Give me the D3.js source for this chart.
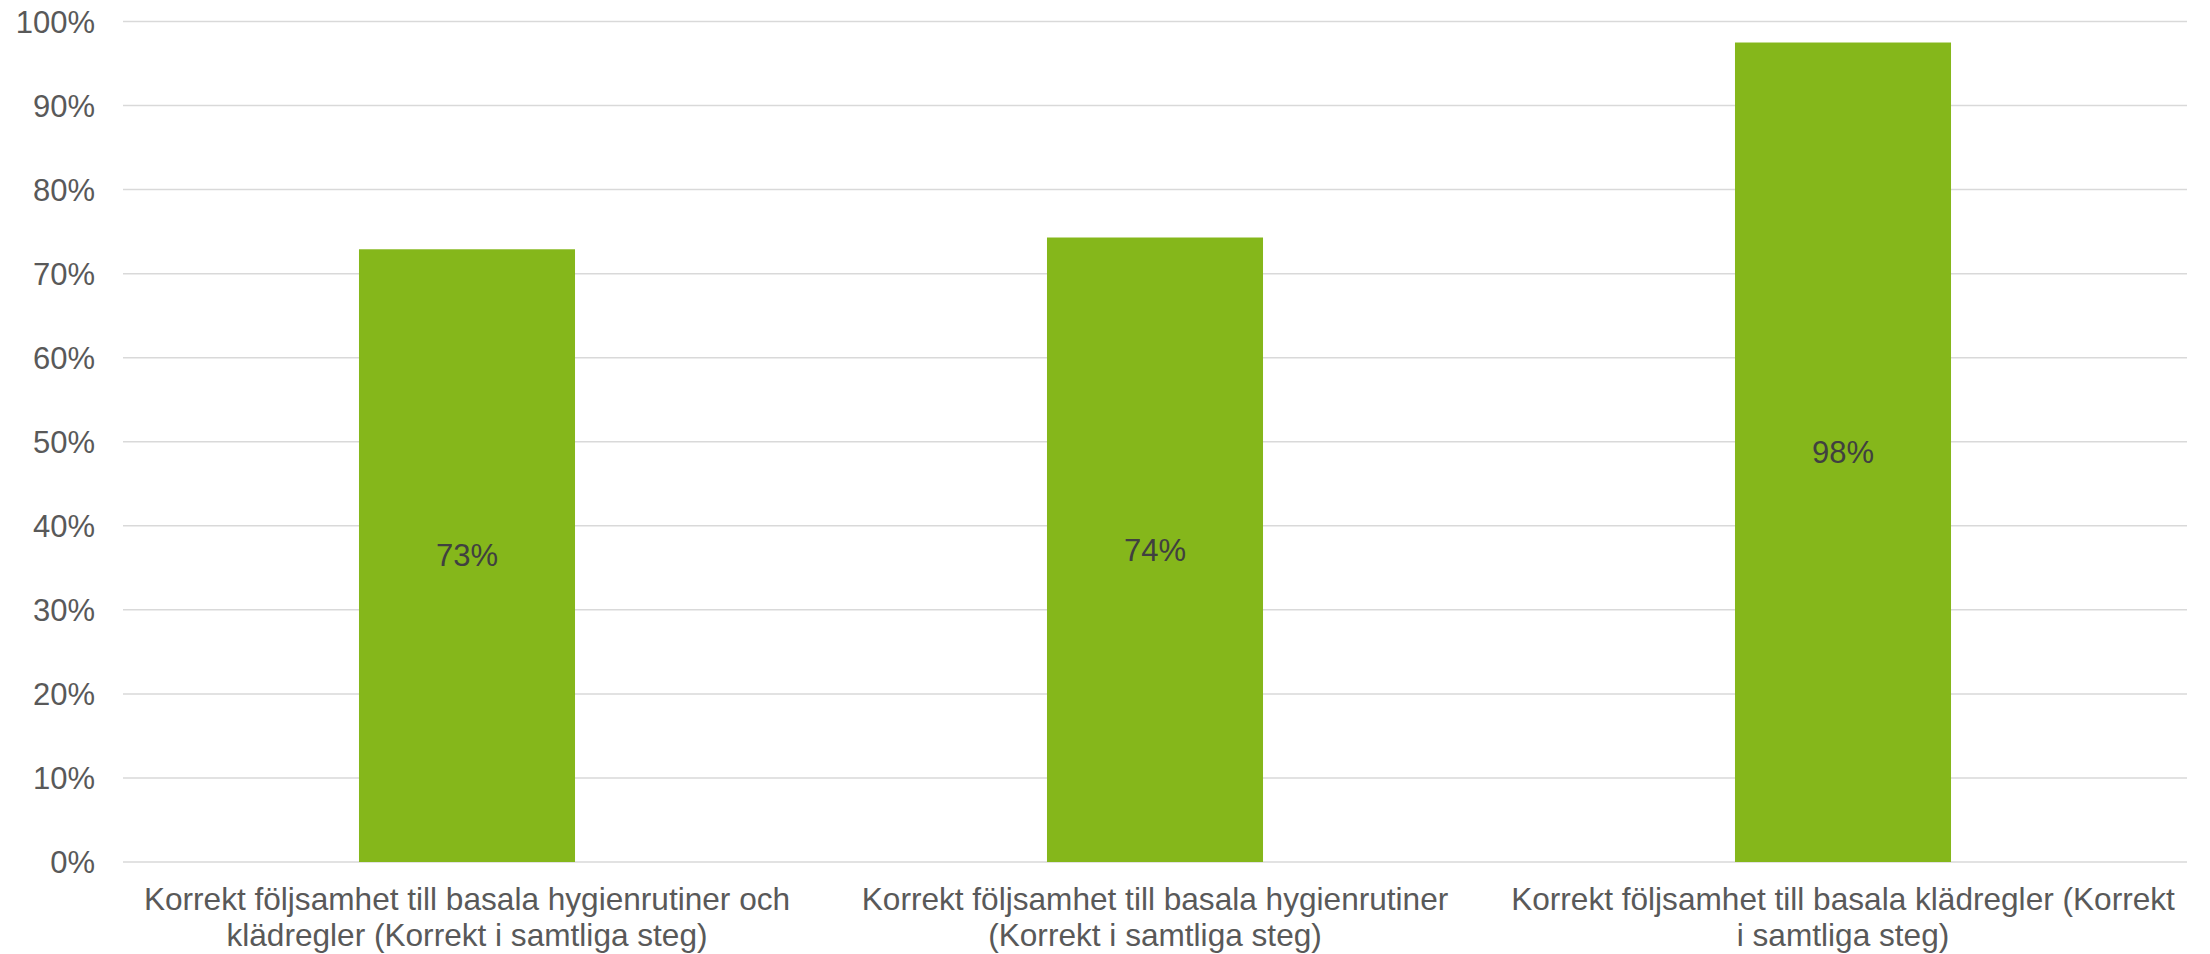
<!DOCTYPE html>
<html>
<head>
<meta charset="utf-8">
<script src="https://cdn.jsdelivr.net/npm/d3@7"></script>
<style>
  html, body { margin: 0; padding: 0; background: #ffffff; }
  svg { display: block; font-family: "Liberation Sans", Arial, sans-serif; }
</style>
</head>
<body>
<svg id="chart" width="2210" height="954"></svg>
<script>
const categories = [
  "Korrekt följsamhet till basala hygienrutiner och klädregler (Korrekt i samtliga steg)",
  "Korrekt följsamhet till basala hygienrutiner (Korrekt i samtliga steg)",
  "Korrekt följsamhet till basala klädregler (Korrekt i samtliga steg)"
];
const categoryLines = [
  ["Korrekt följsamhet till basala hygienrutiner och", "klädregler (Korrekt i samtliga steg)"],
  ["Korrekt följsamhet till basala hygienrutiner", "(Korrekt i samtliga steg)"],
  ["Korrekt följsamhet till basala klädregler (Korrekt", "i samtliga steg)"]
];
const values = [0.729, 0.743, 0.975];
const valueLabels = ["73%", "74%", "98%"];
const yTicks = [0, 0.1, 0.2, 0.3, 0.4, 0.5, 0.6, 0.7, 0.8, 0.9, 1.0];

const svg = d3.select("#chart");
const gridLeft = 123, gridRight = 2187;
const yTop = 21.5, yBottom = 862;

const x = d3.scaleBand().domain(categories).range([gridLeft, gridRight]).paddingInner(0.686).paddingOuter(0.343);
const y = d3.scaleLinear().domain([0, 1]).range([yBottom, yTop]);

// gridlines
svg.append("g").selectAll("line").data(yTicks).join("line")
  .attr("x1", gridLeft).attr("x2", gridRight)
  .attr("y1", d => y(d)).attr("y2", d => y(d))
  .attr("stroke", "#d9d9d9").attr("stroke-width", 1.5);

// y axis labels
const yAxis = d3.axisLeft(y).tickValues(yTicks).tickFormat(d3.format(".0%")).tickSize(0).tickPadding(0);
const ya = svg.append("g").attr("transform", "translate(95,0)").call(yAxis);
ya.select(".domain").remove();
ya.selectAll("text").attr("fill", "#595959").attr("font-size", 31)
  .attr("font-family", "Liberation Sans, Arial, sans-serif").attr("dy", "0.35em");

// bars
svg.append("g").selectAll("rect").data(values).join("rect")
  .attr("x", (d, i) => x(categories[i]))
  .attr("width", x.bandwidth())
  .attr("y", d => y(d))
  .attr("height", d => y(0) - y(d))
  .attr("fill", "#85b71b");

// value labels
svg.append("g").selectAll("text").data(values).join("text")
  .attr("x", (d, i) => x(categories[i]) + x.bandwidth() / 2)
  .attr("y", d => (y(d) + y(0)) / 2)
  .attr("dy", "0.35em")
  .attr("text-anchor", "middle")
  .attr("font-size", 31)
  .attr("fill", "#404040")
  .text((d, i) => valueLabels[i]);

// category labels
const cl = svg.append("g").selectAll("text").data(categories).join("text")
  .attr("text-anchor", "middle")
  .attr("font-size", 31.6)
  .attr("fill", "#595959");
cl.each(function(d, i) {
  const t = d3.select(this);
  const cx = x(d) + x.bandwidth() / 2;
  categoryLines[i].forEach((ln, j) => {
    t.append("tspan").attr("x", cx).attr("y", 910 + j * 36).text(ln);
  });
});
</script>
</body>
</html>
